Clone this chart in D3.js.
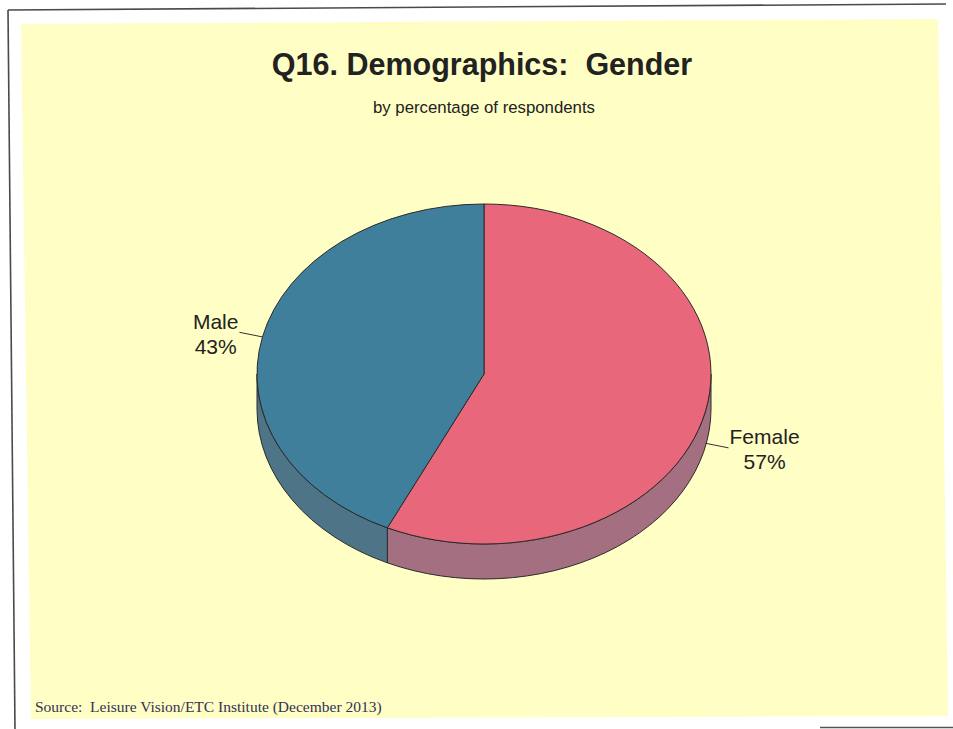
<!DOCTYPE html>
<html>
<head>
<meta charset="utf-8">
<script src="https://cdn.jsdelivr.net/npm/d3@7"></script>
<style>
  html, body { margin: 0; padding: 0; background: #ffffff; }
  svg { display: block; }
  text { white-space: pre; }
</style>
</head>
<body>
<svg id="chart" width="953" height="729"></svg>
<script>
// Survey result: respondents by gender
const categories = ["Female", "Male"];
const values = [57, 43];
const valueLabels = ["57%", "43%"];
const topColors = ["#e8677a", "#3f7f9b"];
const sideColors = ["#a46f80", "#4d7487"];

const titleText = "Q16. Demographics:  Gender";
const subtitleText = "by percentage of respondents";
const sourceText = "Source:  Leisure Vision/ETC Institute (December 2013)";

const svg = d3.select("#chart");

// page frame and panel
svg.append("polygon")
  .attr("points", [[21, 24], [938, 19], [948, 716], [31, 719]].map(p => p.join(",")).join(" "))
  .attr("fill", "#fffec4");
svg.append("path")
  .attr("d", "M8,10 L946,4")
  .attr("stroke", "#4a4a4a").attr("stroke-width", 1.6).attr("fill", "none");
svg.append("path")
  .attr("d", "M8,10 L15,729")
  .attr("stroke", "#4a4a4a").attr("stroke-width", 1.6).attr("fill", "none");
svg.append("path")
  .attr("d", "M820,727.5 L953,727.5")
  .attr("stroke", "#555").attr("stroke-width", 1.5).attr("fill", "none");

// titles
svg.append("text")
  .attr("x", 482).attr("y", 75)
  .attr("text-anchor", "middle")
  .attr("font-family", "Liberation Sans, Arial, sans-serif")
  .attr("font-weight", "bold")
  .attr("font-size", 30.5)
  .attr("fill", "#222")
  .text(titleText);
svg.append("text")
  .attr("x", 484).attr("y", 112.5)
  .attr("text-anchor", "middle")
  .attr("font-family", "Liberation Sans, Arial, sans-serif")
  .attr("font-size", 16.8)
  .attr("fill", "#222")
  .text(subtitleText);
svg.append("text")
  .attr("x", 35).attr("y", 712)
  .attr("font-family", "Liberation Serif, Times New Roman, serif")
  .attr("font-size", 15.5)
  .attr("fill", "#333355")
  .text(sourceText);

// 3D pie geometry
const cx = 484, cy = 374, rx = 227, ry = 170, depth = 35;
const pt = (a, dy = 0) => [cx + rx * Math.sin(a), cy - ry * Math.cos(a) + dy];

const pie = d3.pie().sort(null).value(d => d)(values);

const g = svg.append("g");

// side walls: only the front half (angles between PI/2 and 3PI/2) is visible
pie.forEach((s, i) => {
  const s0 = Math.max(s.startAngle, Math.PI / 2);
  const s1 = Math.min(s.endAngle, 3 * Math.PI / 2);
  if (s1 <= s0) return;
  const p0 = pt(s0), p1 = pt(s1), q1 = pt(s1, depth), q0 = pt(s0, depth);
  const d = `M${p0}A${rx},${ry} 0 0 1 ${p1}L${q1}A${rx},${ry} 0 0 0 ${q0}Z`;
  g.append("path")
    .attr("d", d)
    .attr("fill", sideColors[i])
    .attr("stroke", "#2b2b2b")
    .attr("stroke-width", 1)
    .attr("stroke-linejoin", "round");
});

// top faces
pie.forEach((s, i) => {
  const p0 = pt(s.startAngle), p1 = pt(s.endAngle);
  const large = (s.endAngle - s.startAngle) > Math.PI ? 1 : 0;
  const d = `M${cx},${cy}L${p0}A${rx},${ry} 0 ${large} 1 ${p1}Z`;
  g.append("path")
    .attr("d", d)
    .attr("fill", topColors[i])
    .attr("stroke", "#2b2b2b")
    .attr("stroke-width", 1)
    .attr("stroke-linejoin", "round");
});

// labels with leader lines
const labelFont = "Liberation Sans, Arial, sans-serif";
pie.forEach((s, i) => {
  const mid = (s.startAngle + s.endAngle) / 2;
  const front = Math.cos(mid) < 0;
  const anchor = pt(mid, front ? depth * 0.92 : 0);
  const dir = Math.sin(mid) >= 0 ? 1 : -1;
  const end = [anchor[0] + dir * 23, anchor[1] - Math.cos(mid) * 21];
  g.append("line")
    .attr("x1", anchor[0]).attr("y1", anchor[1])
    .attr("x2", end[0]).attr("y2", end[1])
    .attr("stroke", "#333").attr("stroke-width", 1);

  const t = g.append("text")
    .attr("font-family", labelFont)
    .attr("font-size", 21)
    .attr("fill", "#222")
    .attr("text-anchor", "middle");
  t.append("tspan").text(categories[i]);
  t.append("tspan").text(valueLabels[i]);
  const w = d3.max(t.selectAll("tspan").nodes(), n => n.getComputedTextLength());
  const tx = end[0] + dir * (w / 2 + 1);
  const y0 = end[1] - 3.5;
  t.selectAll("tspan")
    .attr("x", tx)
    .attr("y", (d, j) => y0 + j * 25);
});
</script>
</body>
</html>
